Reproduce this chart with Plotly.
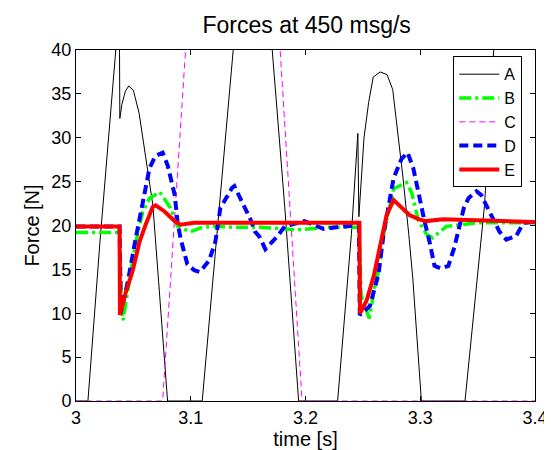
import plotly.graph_objects as go

# ---- data ----
a_t = [3.000, 3.0104, 3.0208, 3.0295, 3.035, 3.0378, 3.0382, 3.040, 3.043, 3.046, 3.050, 3.055,
       3.0625, 3.067, 3.072, 3.076, 3.0798, 3.110, 3.120, 3.130, 3.137, 3.150, 3.160, 3.171,
       3.182, 3.194, 3.228, 3.240, 3.2456, 3.2465, 3.251, 3.255, 3.259, 3.265, 3.271, 3.276,
       3.281, 3.285, 3.290, 3.2935, 3.301, 3.339, 3.356, 3.364, 3.380, 3.400]
a_v = [0, 0, 18, 32, 40.5, 43, 32.2, 33.8, 35.3, 35.9, 35.4, 32.8,
       26.5, 22.3, 13.6, 6.6, 0, 0, 14.5, 29.5, 40, 50, 50, 40,
       22, 0, 0, 19, 30.5, 21, 30, 34, 36.9, 37.5, 37.2, 35.5,
       30, 25.4, 19, 14, 0, 0, 22.3, 40, 52, 60]

b_t = [3.000, 3.038, 3.0395, 3.041, 3.045, 3.052, 3.058, 3.064, 3.073, 3.0824, 3.0885, 3.0998,
       3.110, 3.123, 3.138, 3.160, 3.193, 3.219, 3.2465, 3.2485, 3.2556, 3.2603, 3.2637, 3.268,
       3.2768, 3.288, 3.2924, 3.2985, 3.3055, 3.3107, 3.3228, 3.349, 3.400]
b_v = [19.2, 19.2, 12, 9.2, 12.5, 18, 21.5, 23.1, 23.8, 22, 19.9, 19.3,
       19.8, 19.9, 19.8, 19.8, 19.5, 19.8, 19.8, 12, 9.4, 13, 14.9, 19,
       24.2, 24.9, 23.8, 20.5, 19, 18.6, 19.9, 20.3, 20.3]

c_t = [3.000, 3.0755, 3.110, 3.137, 3.165, 3.197, 3.400]
c_v = [0, 0, 69, 95, 67, 0, 0]

d_t = [3.000, 3.038, 3.039, 3.045, 3.052, 3.0599, 3.064, 3.069, 3.0755, 3.080, 3.086, 3.0885,
       3.091, 3.097, 3.103, 3.108, 3.116, 3.1215, 3.1258, 3.129, 3.136, 3.138, 3.145, 3.152,
       3.156, 3.160, 3.165, 3.175, 3.182, 3.199, 3.216, 3.233, 3.2465, 3.2473, 3.256, 3.2637,
       3.268, 3.2768, 3.2837, 3.289, 3.294, 3.2993, 3.3037, 3.308, 3.3124, 3.318, 3.3245, 3.3297,
       3.334, 3.338, 3.342, 3.349, 3.353, 3.360, 3.366, 3.369, 3.375, 3.3835, 3.390, 3.400]
d_v = [19.9, 19.9, 10, 13.5, 18.5, 23.8, 26.5, 27.9, 28.3, 26.8, 23.5, 20.4,
       18.6, 15.6, 14.9, 14.7, 16, 18.2, 22, 22.7, 24.3, 24.5, 22.6, 20.7,
       19.3, 18.7, 17.3, 18.7, 19.9, 20.5, 19.6, 19.9, 20.0, 9.8, 10.8, 14.5,
       19, 25.4, 27.6, 28.3, 26.5, 23.1, 20.5, 18.2, 15.4, 15.1, 15.4, 17.5,
       19.8, 22, 23.1, 23.9, 23.5, 21.6, 19.9, 19.3, 18.4, 18.8, 20.3, 20.4]

e_t = [3.000, 3.038, 3.0383, 3.0425, 3.0495, 3.0555, 3.0607, 3.0668, 3.0694, 3.0772, 3.086,
       3.091, 3.103, 3.123, 3.247, 3.2475, 3.2534, 3.2594, 3.2646, 3.2707, 3.2768, 3.2906,
       3.299, 3.305, 3.32, 3.349, 3.4]
e_v = [19.9, 19.9, 9.8, 12, 14.9, 18.2, 20.1, 22.1, 22.3, 21.6, 20.5,
       20.1, 20.3, 20.3, 20.3, 10.0, 11.5, 14.2, 17.5, 21.2, 22.9, 21.2,
       20.7, 20.5, 20.7, 20.6, 20.4]

series_names = ["A", "B", "C", "D", "E"]
x_ticks = [3.0, 3.1, 3.2, 3.3, 3.4]
x_ticktext = ["3", "3.1", "3.2", "3.3", "3.4"]
y_ticks = [0, 5, 10, 15, 20, 25, 30, 35, 40]

FONT = "Liberation Sans, Arial, sans-serif"

fig = go.Figure()
styles = [
    dict(color="#000000", width=1, dash="solid"),
    dict(color="#00ff00", width=3.5, dash="12px,4px,3px,4px"),
    dict(color="#ff00ff", width=1, dash="6px,4px"),
    dict(color="#0000ff", width=4, dash="9px,5px"),
    dict(color="#ff0000", width=4, dash="solid"),
]
for name, xs, ys, st in zip(series_names, [a_t, b_t, c_t, d_t, e_t],
                            [a_v, b_v, c_v, d_v, e_v], styles):
    fig.add_trace(go.Scatter(x=xs, y=ys, mode="lines", name=name, line=st))

axis_common = dict(
    showline=True, linecolor="black", linewidth=1, mirror="ticks",
    ticks="inside", ticklen=5, tickcolor="black", tickwidth=1,
    showgrid=False, zeroline=False, layer="below traces",
    tickfont=dict(family=FONT, size=18, color="black"),
)

fig.update_layout(
    width=552, height=450,
    margin=dict(l=68, r=23, t=42, b=50),
    paper_bgcolor="white", plot_bgcolor="white",
    title=dict(text="Forces at 450 msg/s", x=0.5411, xanchor="center",
               yref="container", y=0.962, yanchor="middle",
               font=dict(family=FONT, size=23, color="black")),
    xaxis=dict(range=[3, 3.4], tickvals=x_ticks, ticktext=x_ticktext,
               title=dict(text="time [s]", font=dict(family=FONT, size=20, color="black"), standoff=4),
               **axis_common),
    yaxis=dict(range=[0, 40], tickvals=y_ticks,
               title=dict(text="Force [N]", font=dict(family=FONT, size=20, color="black"), standoff=6),
               **axis_common),
    legend=dict(x=0.822, y=0.982, xanchor="left", yanchor="top",
                bgcolor="white", bordercolor="black", borderwidth=1,
                font=dict(family=FONT, size=16, color="black"),
                tracegroupgap=0, itemwidth=40),
    showlegend=True,
)

fig.write_html("out.html")
